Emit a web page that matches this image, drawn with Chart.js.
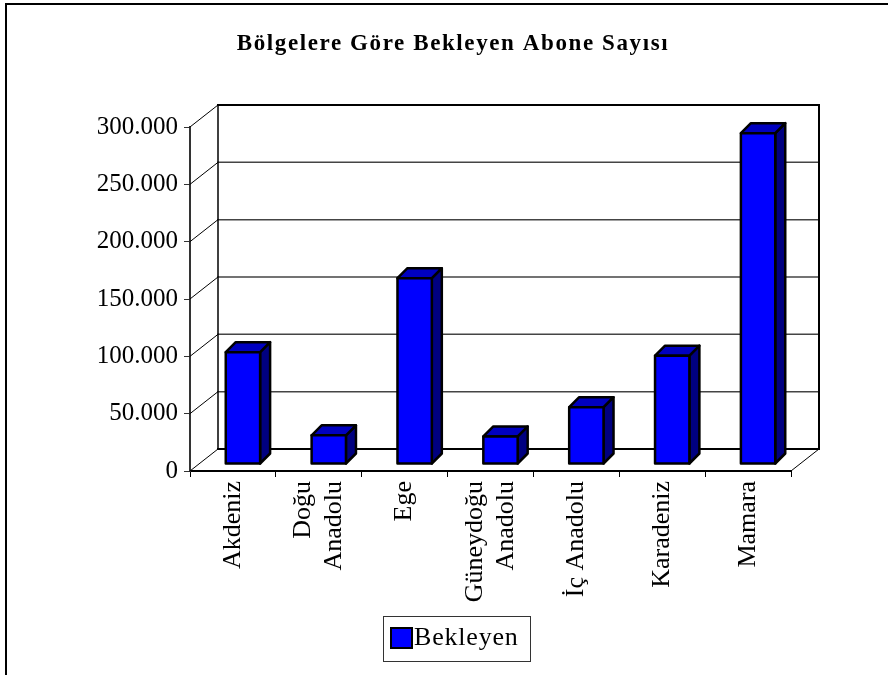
<!DOCTYPE html>
<html>
<head>
<meta charset="utf-8">
<script src="https://cdn.jsdelivr.net/npm/chart.js@4.4.1/dist/chart.umd.min.js"></script>
<style>
    html, body { margin: 0; padding: 0; background: #fff; }
    canvas { display: block; }
</style>
</head>
<body>
<canvas id="waitChart" width="888" height="675"></canvas>
<script>
// ── Data ───────────────────────────────────────────────
const regions = [
    "Akdeniz",
    ["Doğu", "Anadolu"],
    "Ege",
    ["Güneydoğu", "Anadolu"],
    "İç Anadolu",
    "Karadeniz",
    "Mamara"
];
const waiting    = [97500, 25000, 162000, 24000, 49500, 94500, 288500];
const seriesName = "Bekleyen";
const chartTitle = "Bölgelere Göre Bekleyen Abone Sayısı";
const yTicks     = [0, 50000, 100000, 150000, 200000, 250000, 300000];

const SERIF = '"Liberation Serif", "Times New Roman", serif';
Chart.defaults.font.family = SERIF;
Chart.defaults.color = "#000";

// dotted thousands, e.g. 300.000
const fmt = v => String(v).replace(/\B(?=(\d{3})+(?!\d))/g, ".");

// ── 3D look: walls, floor, boxes ───────────────────────
const WALL  = { dx: 28, dy: -22 };   // back wall offset
const FRONT = { dx: 10, dy: -7 };    // bar front face offset
const DEPTH = { dx: 10, dy: -10 };   // bar depth

function poly(ctx, pts, fill) {
    ctx.beginPath();
    ctx.moveTo(pts[0][0], pts[0][1]);
    for (let i = 1; i < pts.length; i++) ctx.lineTo(pts[i][0], pts[i][1]);
    ctx.closePath();
    ctx.fillStyle = fill;
    ctx.fill();
    ctx.stroke();
}

const threeD = {
    id: "threeD",
    beforeDraw(chart) {
        // nudge two-line category labels so the block is centred
        const xs = chart.scales.x;
        if (xs && xs.getLabelItems) {
            xs.getLabelItems().forEach(item => {
                if (Array.isArray(item.label) && !item._shifted) {
                    const lh = item.font.lineHeight;
                    item.options.translation[0] -= (item.label.length - 1) * lh / 2;
                    item._shifted = true;
                }
            });
        }
    },
    beforeDatasetsDraw(chart) {
        const { ctx, chartArea: a, scales: { y } } = chart;
        ctx.save();
        ctx.lineCap = "square";

        // back wall gridlines
        ctx.strokeStyle = "#444";
        ctx.lineWidth = 1.5;
        yTicks.forEach(v => {
            const py = y.getPixelForValue(v);
            ctx.beginPath();
            ctx.moveTo(a.left + WALL.dx, py + WALL.dy);
            ctx.lineTo(a.right + WALL.dx, py + WALL.dy);
            ctx.stroke();
        });

        // side wall diagonals
        ctx.strokeStyle = "#000";
        ctx.lineWidth = 1;
        yTicks.forEach(v => {
            const py = y.getPixelForValue(v);
            ctx.beginPath();
            ctx.moveTo(a.left, py);
            ctx.lineTo(a.left + WALL.dx, py + WALL.dy);
            ctx.stroke();
        });
        ctx.beginPath();
        ctx.moveTo(a.right, a.bottom);
        ctx.lineTo(a.right + WALL.dx, a.bottom + WALL.dy);
        ctx.stroke();

        // back wall edges
        ctx.lineWidth = 1.5;
        ctx.beginPath();
        ctx.moveTo(a.left + WALL.dx, a.bottom + WALL.dy);
        ctx.lineTo(a.left + WALL.dx, a.top + WALL.dy);
        ctx.stroke();
        ctx.lineWidth = 2;
        ctx.beginPath();
        ctx.moveTo(a.left + WALL.dx, a.top + WALL.dy);
        ctx.lineTo(a.right + WALL.dx, a.top + WALL.dy);
        ctx.lineTo(a.right + WALL.dx, a.bottom + WALL.dy);
        ctx.stroke();
        ctx.beginPath();
        ctx.moveTo(a.left + WALL.dx, a.bottom + WALL.dy);
        ctx.lineTo(a.right + WALL.dx, a.bottom + WALL.dy);
        ctx.stroke();

        // boxes
        ctx.lineWidth = 2.5;
        ctx.lineJoin = "round";
        ctx.strokeStyle = "#000";
        chart.getDatasetMeta(0).data.forEach(bar => {
            const l = bar.x - bar.width / 2 + FRONT.dx;
            const r = bar.x + bar.width / 2 + FRONT.dx;
            const t = bar.y + FRONT.dy;
            const b = bar.base + FRONT.dy;
            poly(ctx, [[r, t], [r + DEPTH.dx, t + DEPTH.dy], [r + DEPTH.dx, b + DEPTH.dy], [r, b]], "#000080");
            poly(ctx, [[l, t], [l + DEPTH.dx, t + DEPTH.dy], [r + DEPTH.dx, t + DEPTH.dy], [r, t]], "#0000c0");
            poly(ctx, [[l, t], [r, t], [r, b], [l, b]], "#0000ff");
        });
        ctx.restore();
        return false;
    },
    afterDraw(chart) {
        const { ctx } = chart;
        ctx.save();

        // frame
        ctx.strokeStyle = "#000";
        ctx.lineWidth = 2;
        ctx.beginPath();
        ctx.moveTo(6, 675);
        ctx.lineTo(6, 4);
        ctx.lineTo(888, 4);
        ctx.stroke();

        // title
        ctx.font = "bold 23px " + SERIF;
        ctx.fillStyle = "#000";
        ctx.textAlign = "center";
        ctx.textBaseline = "middle";
        if ("letterSpacing" in ctx) ctx.letterSpacing = "1.6px";
        ctx.fillText(chartTitle, 453, 44);
        if ("letterSpacing" in ctx) ctx.letterSpacing = "0px";

        // legend
        ctx.strokeStyle = "#333";
        ctx.lineWidth = 1;
        ctx.strokeRect(383.5, 616.5, 147, 45);
        ctx.fillStyle = chart.data.datasets[0].backgroundColor;
        ctx.fillRect(391, 628, 21, 20);
        ctx.strokeStyle = "#000";
        ctx.lineWidth = 2;
        ctx.strokeRect(391, 628, 21, 20);
        ctx.fillStyle = "#000";
        ctx.font = "26px " + SERIF;
        ctx.textAlign = "left";
        if ("letterSpacing" in ctx) ctx.letterSpacing = "0.8px";
        ctx.fillText(chart.data.datasets[0].label, 414, 638);
        if ("letterSpacing" in ctx) ctx.letterSpacing = "0px";
        ctx.restore();
    }
};

// ── Chart ──────────────────────────────────────────────
new Chart(document.getElementById("waitChart"), {
    type: "bar",
    data: {
        labels: regions,
        datasets: [{
            label: seriesName,
            data: waiting,
            backgroundColor: "#0000ff",
            categoryPercentage: 1,
            barPercentage: 0.4
        }]
    },
    options: {
        responsive: false,
        animation: false,
        layout: { padding: { top: 127, right: 97, bottom: 60, left: 0 } },
        plugins: {
            legend: { display: false },
            title: { display: false },
            tooltip: { enabled: false }
        },
        scales: {
            x: {
                grid: { drawOnChartArea: false, tickLength: 6, color: "#000", offset: true },
                border: { display: true, color: "#000", width: 2 },
                ticks: {
                    autoSkip: false,
                    minRotation: 90,
                    maxRotation: 90,
                    padding: 4,
                    font: { size: 26 }
                },
                afterFit: s => { s.height = 144; }
            },
            y: {
                min: 0,
                max: 300000,
                grid: { drawOnChartArea: false, tickLength: 6, color: "#333" },
                border: { display: true, color: "#333", width: 2 },
                ticks: {
                    stepSize: 50000,
                    padding: 6,
                    font: { size: 25 },
                    callback: v => fmt(v)
                },
                afterFit: s => { s.width = 190; }
            }
        }
    },
    plugins: [threeD]
});
</script>
</body>
</html>
